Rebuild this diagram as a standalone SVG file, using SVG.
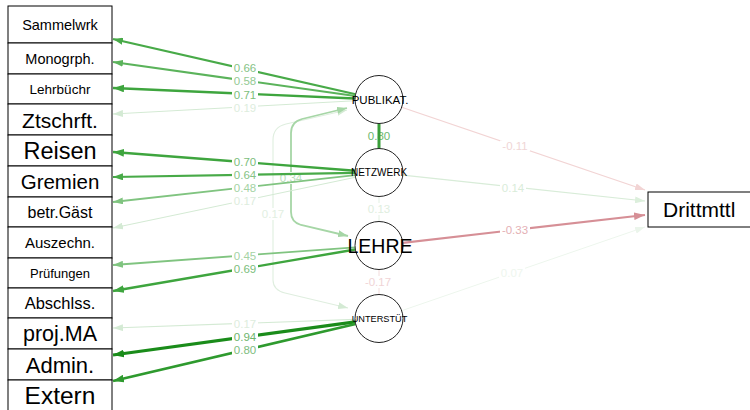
<svg xmlns="http://www.w3.org/2000/svg" width="750" height="410" viewBox="0 0 750 410">
<style>
text{font-family:"Liberation Sans",Arial,sans-serif;}
.box{fill:#fff;stroke:#000;stroke-width:1;}
.lat{fill:#fff;stroke:#222;stroke-width:1;}
.nt{fill:#000;text-anchor:middle;}
.e{fill:none;stroke-linecap:butt;}
.lb{font-size:11.5px;text-anchor:middle;dominant-baseline:central;}
.bg{fill:#fff;}
</style>
<defs>
<marker id="a94" viewBox="0 0 10 7" refX="10" refY="3.5" markerWidth="11" markerHeight="8" markerUnits="userSpaceOnUse" orient="auto-start-reverse"><path d="M0,0L10,3.5L0,7z" fill="#1a8c1a"/></marker>
<marker id="a80" viewBox="0 0 10 7" refX="10" refY="3.5" markerWidth="11" markerHeight="8" markerUnits="userSpaceOnUse" orient="auto-start-reverse"><path d="M0,0L10,3.5L0,7z" fill="#2e9a2e"/></marker>
<marker id="a70" viewBox="0 0 10 7" refX="10" refY="3.5" markerWidth="11" markerHeight="8" markerUnits="userSpaceOnUse" orient="auto-start-reverse"><path d="M0,0L10,3.5L0,7z" fill="#3ea53e"/></marker>
<marker id="a66" viewBox="0 0 10 7" refX="10" refY="3.5" markerWidth="10" markerHeight="7" markerUnits="userSpaceOnUse" orient="auto-start-reverse"><path d="M0,0L10,3.5L0,7z" fill="#48aa48"/></marker>
<marker id="a58" viewBox="0 0 10 7" refX="10" refY="3.5" markerWidth="10" markerHeight="7" markerUnits="userSpaceOnUse" orient="auto-start-reverse"><path d="M0,0L10,3.5L0,7z" fill="#5bb35b"/></marker>
<marker id="a48" viewBox="0 0 10 7" refX="10" refY="3.5" markerWidth="10" markerHeight="7" markerUnits="userSpaceOnUse" orient="auto-start-reverse"><path d="M0,0L10,3.5L0,7z" fill="#80c480"/></marker>
<marker id="a34" viewBox="0 0 10 7" refX="10" refY="3.5" markerWidth="10" markerHeight="7" markerUnits="userSpaceOnUse" orient="auto-start-reverse"><path d="M0,0L10,3.5L0,7z" fill="#a6d6a6"/></marker>
<marker id="a19" viewBox="0 0 10 7" refX="10" refY="3.5" markerWidth="10" markerHeight="7" markerUnits="userSpaceOnUse" orient="auto-start-reverse"><path d="M0,0L10,3.5L0,7z" fill="#d4ead4"/></marker>
<marker id="a13" viewBox="0 0 10 7" refX="10" refY="3.5" markerWidth="10" markerHeight="7" markerUnits="userSpaceOnUse" orient="auto-start-reverse"><path d="M0,0L10,3.5L0,7z" fill="#dcefdc"/></marker>
<marker id="a07" viewBox="0 0 10 7" refX="10" refY="3.5" markerWidth="10" markerHeight="7" markerUnits="userSpaceOnUse" orient="auto-start-reverse"><path d="M0,0L10,3.5L0,7z" fill="#ebf5eb"/></marker>
<marker id="r33" viewBox="0 0 10 7" refX="10" refY="3.5" markerWidth="11" markerHeight="8" markerUnits="userSpaceOnUse" orient="auto-start-reverse"><path d="M0,0L10,3.5L0,7z" fill="#d68f96"/></marker>
<marker id="r11" viewBox="0 0 10 7" refX="10" refY="3.5" markerWidth="10" markerHeight="7" markerUnits="userSpaceOnUse" orient="auto-start-reverse"><path d="M0,0L10,3.5L0,7z" fill="#f2d4d4"/></marker>
</defs>
<rect width="750" height="410" fill="#fff"/>
<g id="connectors">
<path class="e" d="M347,110 L286,124 Q273,127 273,140 L273,280 Q273,290 285,293 L348,308" stroke="#dfeedf" stroke-width="1.1" marker-start="url(#a19)" marker-end="url(#a19)"/>
<path class="e" d="M347,108 L302,119 Q291,122 291,133 L291,212 Q291,222 301,225 L348,236" stroke="#a6d6a6" stroke-width="1.8" marker-start="url(#a34)" marker-end="url(#a34)"/>
<rect class="bg" x="260" y="208" width="26" height="12"/>
<text class="lb" x="273" y="214" fill="#e2efe2">0.17</text>
<rect class="bg" x="278" y="172" width="26" height="12"/>
<text class="lb" x="291" y="178" fill="#b8dcb8">0.34</text>
<text class="lb" x="379" y="136" fill="#6db86d">0.80</text>
<line class="e" x1="379" y1="123.5" x2="379" y2="148.5" stroke="#3a9e3a" stroke-width="3"/>
<line class="e" x1="379" y1="196.5" x2="379" y2="221.5" stroke="#e3f0e3" stroke-width="1"/>
<rect class="bg" x="366" y="203" width="26" height="12"/>
<text class="lb" x="379" y="209" fill="#e0eee0">0.13</text>
<line class="e" x1="379" y1="269.5" x2="379" y2="294.5" stroke="#f3dcdc" stroke-width="1"/>
<rect class="bg" x="363" y="276" width="30" height="12"/>
<text class="lb" x="378" y="282" fill="#f0d4d6">-0.17</text>
<line class="e" x1="355.6" y1="94.2" x2="113" y2="39" stroke="#48aa48" stroke-width="2.2" marker-end="url(#a66)"/>
<line class="e" x1="355.2" y1="96.1" x2="113" y2="62" stroke="#5bb35b" stroke-width="2" marker-end="url(#a58)"/>
<line class="e" x1="355" y1="98.5" x2="113" y2="88" stroke="#3ea53e" stroke-width="2.4" marker-end="url(#a70)"/>
<line class="e" x1="355" y1="100.8" x2="113" y2="114" stroke="#d4ead4" stroke-width="1.1" marker-end="url(#a19)"/>
<line class="e" x1="355.1" y1="170.7" x2="113" y2="152" stroke="#3ea53e" stroke-width="2.4" marker-end="url(#a70)"/>
<line class="e" x1="355" y1="172.9" x2="113" y2="177" stroke="#48aa48" stroke-width="2.2" marker-end="url(#a66)"/>
<line class="e" x1="355.1" y1="175.1" x2="113" y2="202" stroke="#80c480" stroke-width="1.8" marker-end="url(#a48)"/>
<line class="e" x1="355.5" y1="177.2" x2="113" y2="228" stroke="#d4ead4" stroke-width="1.1" marker-end="url(#a19)"/>
<line class="e" x1="355.1" y1="247.3" x2="113" y2="265" stroke="#80c480" stroke-width="1.8" marker-end="url(#a48)"/>
<line class="e" x1="355.3" y1="249.5" x2="113" y2="291" stroke="#3ea53e" stroke-width="2.4" marker-end="url(#a70)"/>
<line class="e" x1="355" y1="319.4" x2="113" y2="328" stroke="#d4ead4" stroke-width="1.1" marker-end="url(#a19)"/>
<line class="e" x1="355.2" y1="321.8" x2="113" y2="355" stroke="#1a8c1a" stroke-width="3.2" marker-end="url(#a94)"/>
<line class="e" x1="355.6" y1="324" x2="113" y2="381" stroke="#2e9a2e" stroke-width="2.8" marker-end="url(#a80)"/>
<line class="e" x1="401.7" y1="107.2" x2="645" y2="190" stroke="#f2d4d4" stroke-width="1.2" marker-end="url(#r11)"/>
<line class="e" x1="402.9" y1="175.1" x2="645" y2="201" stroke="#d8ecd8" stroke-width="1.2" marker-end="url(#a13)"/>
<line class="e" x1="402.8" y1="242.8" x2="645" y2="215" stroke="#d68f96" stroke-width="2.2" marker-end="url(#r33)"/>
<line class="e" x1="401.7" y1="310.7" x2="645" y2="227" stroke="#edf6ed" stroke-width="1" marker-end="url(#a07)"/>
<g>
<rect class="bg" x="232" y="62.5" width="26" height="11"/><text class="lb" x="245" y="68" fill="#86c386">0.66</text>
<rect class="bg" x="232" y="75.5" width="26" height="11"/><text class="lb" x="245" y="81" fill="#94ca94">0.58</text>
<rect class="bg" x="232" y="89" width="26" height="11"/><text class="lb" x="245" y="94.5" fill="#7cbe7c">0.71</text>
<rect class="bg" x="232" y="102" width="26" height="11"/><text class="lb" x="245" y="107.5" fill="#ddeddd">0.19</text>
<rect class="bg" x="232" y="156.5" width="26" height="11"/><text class="lb" x="245" y="162" fill="#7cbe7c">0.70</text>
<rect class="bg" x="232" y="169.5" width="26" height="11"/><text class="lb" x="245" y="175" fill="#86c386">0.64</text>
<rect class="bg" x="232" y="182.5" width="26" height="11"/><text class="lb" x="245" y="188" fill="#a4d3a4">0.48</text>
<rect class="bg" x="232" y="195.5" width="26" height="11"/><text class="lb" x="245" y="201" fill="#ddeddd">0.17</text>
<rect class="bg" x="232" y="250" width="26" height="11"/><text class="lb" x="245" y="255.5" fill="#a4d3a4">0.45</text>
<rect class="bg" x="232" y="263.5" width="26" height="11"/><text class="lb" x="245" y="269" fill="#7cbe7c">0.69</text>
<rect class="bg" x="232" y="318" width="26" height="11"/><text class="lb" x="245" y="323.5" fill="#ddeddd">0.17</text>
<rect class="bg" x="232" y="331" width="26" height="11"/><text class="lb" x="245" y="336.5" fill="#6db56d">0.94</text>
<rect class="bg" x="232" y="344.5" width="26" height="11"/><text class="lb" x="245" y="350" fill="#7ebd7e">0.80</text>
<rect class="bg" x="500" y="140.5" width="30" height="11"/><text class="lb" x="515" y="146" fill="#f0d6d6">-0.11</text>
<rect class="bg" x="500" y="182.5" width="26" height="11"/><text class="lb" x="513" y="188" fill="#d9ecd9">0.14</text>
<rect class="bg" x="500" y="224.5" width="30" height="11"/><text class="lb" x="515" y="230" fill="#e4b0b5">-0.33</text>
<rect class="bg" x="499" y="267" width="26" height="11"/><text class="lb" x="512" y="272.5" fill="#eef6ee">0.07</text>
</g>
</g>
<g id="n-sammelwrk"><rect class="box" x="8" y="6" width="104" height="37"/><text class="nt" x="60" y="29.5" font-size="14.5">Sammelwrk</text></g>
<g id="n-monogrph"><rect class="box" x="8" y="43" width="104" height="31"/><text class="nt" x="60" y="63.5" font-size="14.5">Monogrph.</text></g>
<g id="n-lehrbuechr"><rect class="box" x="8" y="74" width="104" height="30"/><text class="nt" x="60" y="93.8" font-size="13.5">Lehrbüchr</text></g>
<g id="n-ztschrft"><rect class="box" x="8" y="104" width="104" height="31"/><text class="nt" x="60" y="127.5" font-size="21">Ztschrft.</text></g>
<g id="n-reisen"><rect class="box" x="8" y="135" width="104" height="31"/><text class="nt" x="60" y="159" font-size="23.5">Reisen</text></g>
<g id="n-gremien"><rect class="box" x="8" y="166" width="104" height="31"/><text class="nt" x="60" y="189" font-size="20.5">Gremien</text></g>
<g id="n-betrgaest"><rect class="box" x="8" y="197" width="104" height="30"/><text class="nt" x="60" y="217.8" font-size="16">betr.Gäst</text></g>
<g id="n-auszechn"><rect class="box" x="8" y="227" width="104" height="31"/><text class="nt" x="60" y="248" font-size="15">Auszechn.</text></g>
<g id="n-pruefungen"><rect class="box" x="8" y="258" width="104" height="30"/><text class="nt" x="60" y="277.7" font-size="13">Prüfungen</text></g>
<g id="n-abschlss"><rect class="box" x="8" y="288" width="104" height="30"/><text class="nt" x="60" y="309" font-size="16.5">Abschlss.</text></g>
<g id="n-projma"><rect class="box" x="8" y="318" width="104" height="31"/><text class="nt" x="60" y="341.3" font-size="21.5">proj.MA</text></g>
<g id="n-admin"><rect class="box" x="8" y="349" width="104" height="31"/><text class="nt" x="60" y="372.5" font-size="22">Admin.</text></g>
<g id="n-extern"><rect class="box" x="8" y="380" width="104" height="31"/><text class="nt" x="60" y="404.3" font-size="24.5">Extern</text></g>
<g id="n-publikat"><circle class="lat" cx="379" cy="99.5" r="24"/><text class="nt" x="380" y="103.5" font-size="11.5">PUBLIKAT.</text></g>
<g id="n-netzwerk"><circle class="lat" cx="379" cy="172.5" r="24"/><text class="nt" x="379" y="176" font-size="10">NETZWERK</text></g>
<g id="n-lehre"><circle class="lat" cx="379" cy="245.5" r="24"/><text class="nt" x="380" y="252.5" font-size="19.5">LEHRE</text></g>
<g id="n-unterstuet"><circle class="lat" cx="379" cy="318.5" r="24"/><text class="nt" x="379.5" y="321.8" font-size="9.2">UNTERSTÜT</text></g>
<g id="n-drittmttl"><rect class="box" x="648" y="192" width="110" height="35"/><text x="663" y="217" font-size="21" fill="#000">Drittmttl</text></g>
</svg>
